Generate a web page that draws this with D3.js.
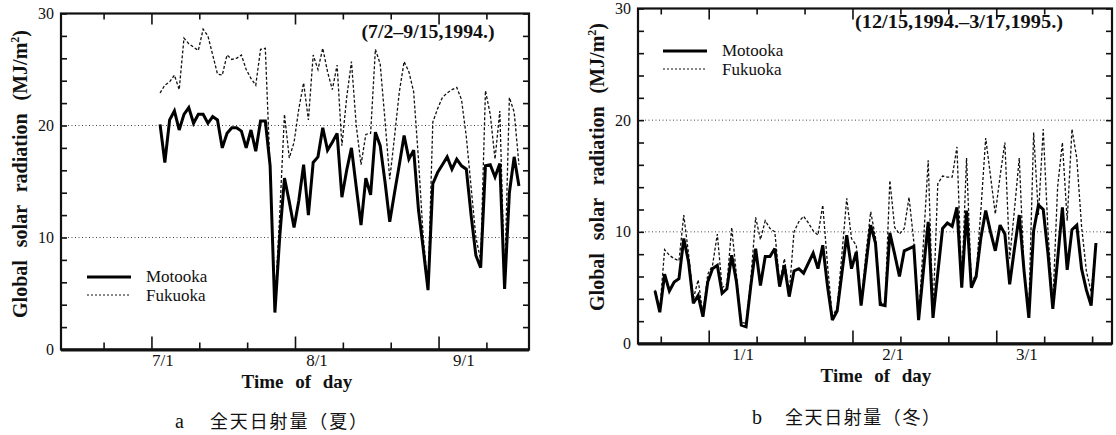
<!DOCTYPE html>
<html>
<head>
<meta charset="utf-8">
<script src="https://cdn.jsdelivr.net/npm/d3@7"></script>
<style>
    body { margin: 0; background: #fff; }
    svg text { font-family: "Liberation Serif", "Times New Roman", serif; fill: #111; }
    svg text.cjk { font-family: "Noto Sans CJK JP", sans-serif; }
</style>
</head>
<body>
<svg id="chart" width="1116" height="435"></svg>
<script>
// values, one per day
const seriesNames = ["Motooka", "Fukuoka"];
const yTickValues = [0, 10, 20, 30];
const summerTickLabels = ["7/1", "8/1", "9/1"];
const winterTickLabels = ["1/1", "2/1", "3/1"];

// 7/2 - 9/15, 1994
const summerMotooka = [
    20.1, 16.7, 20.5, 21.3, 19.6, 21.0, 21.6, 20.2, 21.0, 21.0,
    20.2, 20.8, 20.5, 18.0, 19.3, 19.8, 19.8, 19.5, 18.0, 19.6,
    17.7, 20.4, 20.4, 16.4, 3.3, 10.0, 15.3, 13.2, 10.9, 13.3,
    16.5, 12.0, 16.7, 17.2, 19.8, 17.8, 18.5, 19.3, 13.6, 16.0,
    18.0, 14.5, 11.1, 15.3, 13.8, 19.4, 18.2, 15.0, 11.4, 14.0,
    16.5, 19.1, 17.0, 17.8, 12.5, 9.0, 5.3, 14.8, 15.8, 16.5,
    17.2, 16.1, 17.0, 16.4, 16.1, 12.0, 8.4, 7.3, 16.4, 16.5,
    15.4, 16.6, 5.4, 14.0, 17.2, 14.6
];
const summerFukuoka = [
    22.9, 23.6, 23.9, 24.5, 23.2, 27.8, 27.3, 27.0, 26.7, 28.6,
    28.0, 26.3, 24.6, 24.5, 26.3, 25.9, 26.0, 26.3, 25.0, 24.2,
    23.6, 26.8, 26.9, 16.0, 4.0, 12.0, 21.0, 17.1, 18.5, 21.5,
    23.8, 20.5, 26.3, 25.0, 26.9, 24.8, 23.2, 25.4, 18.2, 22.5,
    25.7, 20.0, 16.5, 19.2, 19.3, 26.8, 25.5, 20.5, 15.2, 19.0,
    23.0, 25.7, 24.8, 23.0, 17.0, 10.0, 5.6, 20.3, 21.5, 22.5,
    22.9, 23.2, 23.4, 22.3, 19.0, 14.5, 10.0, 8.0, 23.1, 21.0,
    17.0, 21.3, 6.0, 22.5, 21.2, 16.5
];

// 12/15, 1994 - 3/17, 1995
const winterMotooka = [
    4.7, 2.8, 6.2, 4.7, 5.5, 5.8, 9.4, 7.3, 3.6, 4.3,
    2.4, 5.5, 6.7, 7.0, 4.5, 4.9, 7.9, 5.5, 1.65, 1.5,
    5.2, 8.5, 5.2, 7.8, 7.8, 8.5, 5.1, 7.0, 4.2, 6.5,
    6.7, 6.3, 7.2, 8.1, 6.7, 8.8, 5.1, 2.1, 2.9, 6.3,
    9.7, 6.7, 8.2, 3.4, 7.0, 10.6, 9.0, 3.5, 3.4, 9.9,
    8.0, 6.0, 8.3, 8.5, 8.7, 2.1, 6.5, 10.9, 2.3, 6.3,
    10.3, 10.8, 10.5, 12.2, 5.0, 11.9, 5.0, 6.0, 9.5, 11.9,
    10.0, 8.3, 10.6, 9.8, 5.3, 8.5, 11.5, 6.5, 2.3, 10.1,
    12.4, 12.0, 8.0, 3.1, 7.5, 12.2, 6.6, 10.2, 10.6, 6.7,
    4.8, 3.4, 9.0
];
const winterFukuoka = [
    4.8, 3.0, 8.4, 7.9, 7.6, 7.4, 11.5, 8.0, 4.0, 5.7,
    2.6, 6.2, 7.0, 9.8, 5.0, 5.3, 10.4, 6.1, 1.9, 1.8,
    5.8, 11.3, 9.3, 11.0, 10.3, 10.0, 5.4, 7.6, 4.5, 10.0,
    10.9, 11.4, 10.8, 10.1, 9.7, 12.4, 7.0, 2.4, 3.2, 8.0,
    13.0, 9.4, 8.8, 3.6, 8.0, 11.8, 9.5, 3.7, 3.6, 14.6,
    10.4, 9.8, 10.3, 13.1, 9.1, 2.3, 9.0, 16.4, 2.6, 14.3,
    15.0, 14.9, 14.9, 17.6, 5.3, 16.6, 5.4, 6.2, 12.0, 18.4,
    15.0, 11.6, 15.0, 18.0, 7.6, 12.0, 16.6, 6.5, 3.0, 18.9,
    11.5, 19.2, 10.0, 3.5, 14.0, 18.0, 11.0, 19.2, 16.6, 10.5,
    6.5, 4.6, 8.8
];

const svg = d3.select("#chart");

const panels = [
    {
        motooka: summerMotooka, fukuoka: summerFukuoka, tickLabels: summerTickLabels,
        left: 61, right: 529, top: 13.5, bottom: 349.5,
        dayMin: -20.7, dayMax: 77.1, firstTick: -11.8, labelDays: [0.6, 32.8, 63.5], labelY: 366,
        xTitle: { x: 297, y: 388 },
        yTitle: { x: 27, y: 174 },
        period: { text: "(7/2\u20139/15,1994.)", x: 428, y: 38, len: 133 },
        legend: { x: 87, y: 277 },
        caption: { letter: "a", x: 175, cjkX: 210, y: 428, text: "全天日射量（夏）", len: 157 }
    },
    {
        motooka: winterMotooka, fukuoka: winterFukuoka, tickLabels: winterTickLabels,
        left: 638, right: 1112, top: 8.5, bottom: 343.5,
        dayMin: -3.55, dayMax: 95.35, firstTick: 1.2, labelDays: [18.4, 49.7, 77.6], labelY: 360,
        xTitle: { x: 876, y: 382 },
        yTitle: { x: 604, y: 167 },
        period: { text: "(12/15,1994.\u20133/17,1995.)", x: 959, y: 28, len: 208 },
        legend: { x: 663, y: 51 },
        caption: { letter: "b", x: 752, cjkX: 785, y: 424, text: "全天日射量（冬）", len: 155 }
    }
];

function drawPanel(p) {
    const x = d3.scaleLinear().domain([p.dayMin, p.dayMax]).range([p.left, p.right]);
    const y = d3.scaleLinear().domain([0, 30]).range([p.bottom, p.top]);
    const g = svg.append("g");

    // dotted grid
    g.selectAll("line.grid")
        .data(yTickValues)
        .enter()
        .append("line")
        .attr("class", "grid")
        .attr("x1", p.left).attr("x2", p.right)
        .attr("y1", d => y(d)).attr("y2", d => y(d))
        .attr("stroke", "#444")
        .attr("stroke-width", 1)
        .attr("stroke-dasharray", "1,2.5");

    // ticks every 10 days, taller every 30
    const tickDays = d3.range(p.firstTick, p.dayMax, 10);
    const minor = tickDays.filter((d, i) => i % 3 !== 1);
    const major = tickDays.filter((d, i) => i % 3 === 1);
    const noDomain = sel => sel.select(".domain").remove();

    g.append("g").attr("transform", `translate(0,${p.bottom})`)
        .call(d3.axisBottom(x).tickValues(minor).tickSize(-7).tickFormat("")).call(noDomain);
    g.append("g").attr("transform", `translate(0,${p.bottom})`)
        .call(d3.axisBottom(x).tickValues(major).tickSize(-13).tickFormat("")).call(noDomain);
    g.append("g").attr("transform", `translate(0,${p.top})`)
        .call(d3.axisTop(x).tickValues(minor).tickSize(-6).tickFormat("")).call(noDomain);
    g.append("g").attr("transform", `translate(0,${p.top})`)
        .call(d3.axisTop(x).tickValues(major).tickSize(-11).tickFormat("")).call(noDomain);
    g.append("g").attr("transform", `translate(${p.left},0)`)
        .call(d3.axisLeft(y).tickValues(d3.range(0, 31, 2)).tickSize(-6).tickFormat("")).call(noDomain);
    g.append("g").attr("transform", `translate(${p.right},0)`)
        .call(d3.axisRight(y).tickValues(d3.range(0, 31, 2)).tickSize(-6).tickFormat("")).call(noDomain);
    g.selectAll(".tick line").attr("stroke", "#111").attr("stroke-width", 1.6);

    // frame
    g.append("rect")
        .attr("x", p.left).attr("y", p.top)
        .attr("width", p.right - p.left).attr("height", p.bottom - p.top)
        .attr("fill", "none").attr("stroke", "#111").attr("stroke-width", 2.2);
    g.append("line")
        .attr("x1", p.left).attr("x2", p.right)
        .attr("y1", p.bottom + 0.5).attr("y2", p.bottom + 0.5)
        .attr("stroke", "#111").attr("stroke-width", 3);

    // y tick labels
    g.selectAll("text.ylab")
        .data(yTickValues)
        .enter()
        .append("text")
        .attr("class", "ylab")
        .attr("x", p.left - 7)
        .attr("y", d => y(d))
        .attr("dy", "0.35em")
        .attr("text-anchor", "end")
        .attr("font-size", 16)
        .text(d => d);

    // date labels
    g.selectAll("text.xlab")
        .data(p.tickLabels)
        .enter()
        .append("text")
        .attr("class", "xlab")
        .attr("x", (d, i) => x(p.labelDays[i]))
        .attr("y", p.labelY)
        .attr("text-anchor", "middle")
        .attr("font-size", 17)
        .text(d => d);

    // series
    const line = d3.line()
        .x((d, i) => x(i))
        .y(d => y(d));

    g.append("path")
        .datum(p.fukuoka)
        .attr("fill", "none")
        .attr("stroke", "#111")
        .attr("stroke-width", 1.3)
        .attr("stroke-dasharray", "3,2")
        .attr("d", line);

    g.append("path")
        .datum(p.motooka)
        .attr("fill", "none")
        .attr("stroke", "#000")
        .attr("stroke-width", 3)
        .attr("stroke-linejoin", "miter")
        .attr("stroke-miterlimit", 3)
        .attr("d", line);

    // legend
    const lg = g.append("g").attr("transform", `translate(${p.legend.x},${p.legend.y})`);
    lg.append("line").attr("x1", 0).attr("x2", 44).attr("y1", 0).attr("y2", 0)
        .attr("stroke", "#000").attr("stroke-width", 3);
    lg.append("line").attr("x1", 0).attr("x2", 44).attr("y1", 18).attr("y2", 18)
        .attr("stroke", "#111").attr("stroke-width", 1).attr("stroke-dasharray", "2,2");
    lg.selectAll("text")
        .data(seriesNames)
        .enter()
        .append("text")
        .attr("x", 59)
        .attr("y", (d, i) => 5 + i * 19)
        .attr("font-size", 17)
        .text(d => d);

    // period note
    g.append("text")
        .attr("x", p.period.x).attr("y", p.period.y)
        .attr("text-anchor", "middle")
        .attr("font-size", 18)
        .attr("font-weight", "bold")
        .attr("textLength", p.period.len)
        .attr("lengthAdjust", "spacingAndGlyphs")
        .text(p.period.text);

    // axis titles
    g.append("text")
        .attr("x", p.xTitle.x).attr("y", p.xTitle.y)
        .attr("text-anchor", "middle")
        .attr("font-size", 19)
        .attr("font-weight", "bold")
        .attr("word-spacing", 7)
        .text("Time of day");

    const yt = g.append("text")
        .attr("transform", `translate(${p.yTitle.x},${p.yTitle.y}) rotate(-90)`)
        .attr("text-anchor", "middle")
        .attr("font-size", 20)
        .attr("font-weight", "bold")
        .attr("word-spacing", 8);
    yt.append("tspan").text("Global solar radiation (MJ/m");
    yt.append("tspan").attr("dy", -8).attr("font-size", 12).text("2");
    yt.append("tspan").attr("dy", 8).text(")");

    // caption
    g.append("text")
        .attr("x", p.caption.x).attr("y", p.caption.y)
        .attr("font-size", 20)
        .text(p.caption.letter);
    g.append("text")
        .attr("class", "cjk")
        .attr("x", p.caption.cjkX).attr("y", p.caption.y)
        .attr("font-size", 18)
        .attr("textLength", p.caption.len)
        .attr("lengthAdjust", "spacing")
        .text(p.caption.text);
}

panels.forEach(drawPanel);
</script>
</body>
</html>
